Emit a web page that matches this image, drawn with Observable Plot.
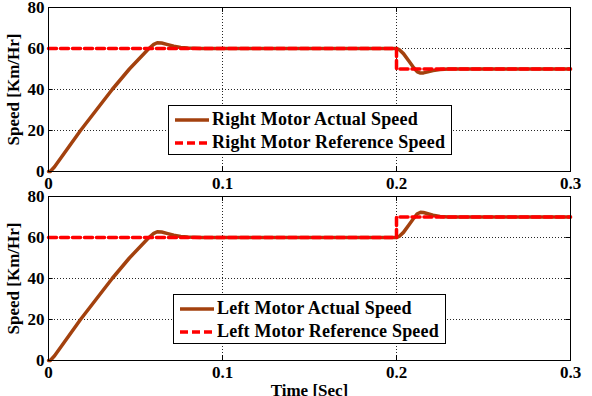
<!DOCTYPE html>
<html>
<head>
<meta charset="utf-8">
<script src="https://cdn.jsdelivr.net/npm/d3@7"></script>
<script src="https://cdn.jsdelivr.net/npm/@observablehq/plot@0.6"></script>
<style>
  body { margin: 0; background: #fff; }
  #fig { position: relative; width: 592px; height: 396px; overflow: hidden; background: #fff;
         font-family: "Liberation Serif", "Times New Roman", serif; font-weight: bold; }
  .panel { position: absolute; left: 0; }
  .legend { position: absolute; background: #fff; border: 1px solid #000; box-sizing: border-box;
            font-size: 18px; color: #000; padding-top: 2px; letter-spacing: 0.2px; }
  .row { display: flex; align-items: center; height: 23px; white-space: nowrap; }
  .row svg { margin-left: 6px; margin-right: 3px; }
</style>
</head>
<body>
<div id="fig"></div>
<script>
// Axis ticks
const timeTicks = [0, 0.1, 0.2, 0.3];
const speedTicks = [0, 20, 40, 60, 80];

// Right motor: measured speed and commanded (reference) speed
const rightActualTime  = [0, 0.001, 0.0035, 0.0184, 0.0275, 0.0366, 0.0465, 0.0577, 0.0605, 0.0625, 0.065, 0.068, 0.072, 0.076, 0.080, 0.088, 0.200, 0.2015, 0.204, 0.207, 0.210, 0.212, 0.2138, 0.2155, 0.218, 0.221, 0.225, 0.230, 0.300];
const rightActualSpeed = [0, 0, 2.3, 20, 30, 40, 50, 60, 62, 62.8, 62.7, 62, 61.1, 60.5, 60.2, 60, 60, 59.5, 57.5, 54, 50.5, 48.6, 48, 48.1, 48.6, 49.2, 49.7, 50, 50];
const rightRefTime  = [0, 0.2, 0.2, 0.3];
const rightRefSpeed = [60, 60, 50, 50];

// Left motor: measured speed and commanded (reference) speed
const leftActualTime  = [0, 0.001, 0.0035, 0.0184, 0.0275, 0.0366, 0.0465, 0.0577, 0.0605, 0.0625, 0.065, 0.068, 0.072, 0.076, 0.080, 0.088, 0.200, 0.2015, 0.204, 0.207, 0.210, 0.212, 0.2138, 0.2155, 0.218, 0.221, 0.225, 0.230, 0.300];
const leftActualSpeed = [0, 0, 2.3, 20, 30, 40, 50, 60, 62, 62.8, 62.7, 62, 61.1, 60.5, 60.2, 60, 60, 60.5, 62.5, 66, 69.5, 71.6, 72.3, 72.2, 71.6, 70.9, 70.3, 70, 70];
const leftRefTime  = [0, 0.2, 0.2, 0.3];
const leftRefSpeed = [60, 60, 70, 70];

const actualColor = "#a3410e";
const refColor = "#ff0000";

const pts = (ts, vs) => ts.map((t, i) => ({t, v: vs[i]}));

function panel({actual, ref, height, marginBottom, xLabel}) {
  return Plot.plot({
    width: 592,
    height,
    marginLeft: 48,
    marginRight: 22,
    marginTop: 7,
    marginBottom,
    style: {fontFamily: '"Liberation Serif", "Times New Roman", serif', fontSize: "17px", fontWeight: "bold", color: "#000", background: "transparent", overflow: "visible"},
    x: {domain: [0, 0.3]},
    y: {domain: [0, 80]},
    marks: [
      Plot.gridX(timeTicks.slice(1, -1), {stroke: "#000", strokeOpacity: 0.85, strokeDasharray: "1,2"}),
      Plot.gridY(speedTicks.slice(1, -1), {stroke: "#000", strokeOpacity: 0.85, strokeDasharray: "1,2"}),
      Plot.axisX({ticks: timeTicks, tickFormat: d => String(d), tickSize: 0, tickPadding: 5,
                  label: xLabel, labelAnchor: "center", labelOffset: 35, labelArrow: "none"}),
      Plot.axisY({ticks: speedTicks, tickFormat: d => String(d), tickSize: 0, tickPadding: 4,
                  label: "Speed [Km/Hr]", labelAnchor: "center", labelOffset: 42, labelArrow: "none"}),
      // inward tick marks on all four sides
      Plot.ruleX(timeTicks, {x: d => d, y1: 0, y2: 80 * 0.03, stroke: "#000"}),
      Plot.ruleX(timeTicks, {x: d => d, y1: 80, y2: 80 * 0.97, stroke: "#000"}),
      Plot.ruleY(speedTicks, {y: d => d, x1: 0, x2: 0.3 * 0.009, stroke: "#000"}),
      Plot.ruleY(speedTicks, {y: d => d, x1: 0.3, x2: 0.3 * 0.991, stroke: "#000"}),
      Plot.line(actual, {x: "t", y: "v", stroke: actualColor, strokeWidth: 3.5}),
      Plot.line(ref, {x: "t", y: "v", stroke: refColor, strokeWidth: 3.5, strokeDasharray: "8,4"}),
      Plot.frame({stroke: "#000", strokeWidth: 1})
    ]
  });
}

function legend(items, box) {
  const div = document.createElement("div");
  div.className = "legend";
  Object.assign(div.style, {left: box.left + "px", top: box.top + "px", width: box.width + "px", height: box.height + "px"});
  for (const it of items) {
    const row = document.createElement("div");
    row.className = "row";
    row.innerHTML = `<svg width="34" height="10"><line x1="0" x2="34" y1="5" y2="5" stroke="${it.color}" stroke-width="3.5" ${it.dash ? 'stroke-dasharray="8,4"' : ""}/></svg><span>${it.label}</span>`;
    div.appendChild(row);
  }
  return div;
}

const fig = document.getElementById("fig");

const rightPanel = panel({actual: pts(rightActualTime, rightActualSpeed), ref: pts(rightRefTime, rightRefSpeed), height: 190, marginBottom: 19, xLabel: null});
rightPanel.classList.add("panel");
rightPanel.style.top = "0px";
fig.appendChild(rightPanel);

const leftPanel = panel({actual: pts(leftActualTime, leftActualSpeed), ref: pts(leftRefTime, leftRefSpeed), height: 207, marginBottom: 36, xLabel: "Time [Sec]"});
leftPanel.classList.add("panel");
leftPanel.style.top = "189px";
fig.appendChild(leftPanel);

fig.appendChild(legend([
  {label: "Right Motor Actual Speed", color: actualColor},
  {label: "Right Motor Reference Speed", color: refColor, dash: true}
], {left: 168, top: 105, width: 284, height: 50}));

fig.appendChild(legend([
  {label: "Left Motor Actual Speed", color: actualColor},
  {label: "Left Motor Reference Speed", color: refColor, dash: true}
], {left: 173, top: 294, width: 273, height: 50}));
</script>
</body>
</html>
